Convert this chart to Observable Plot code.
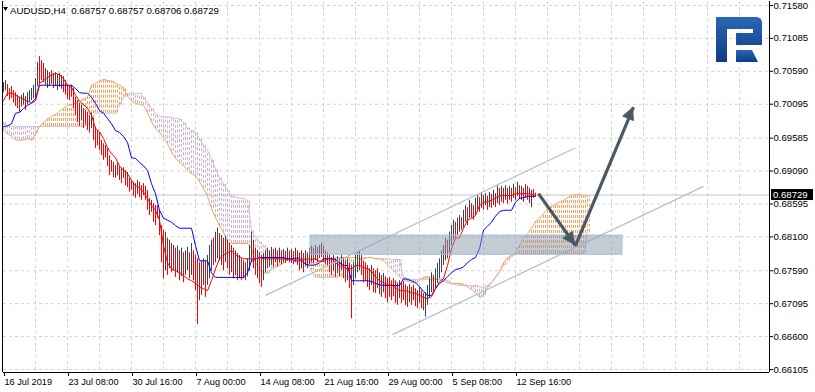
<!DOCTYPE html>
<html>
<head>
<meta charset="utf-8">
<script src="https://cdn.jsdelivr.net/npm/d3@7"></script>
<script src="https://cdn.jsdelivr.net/npm/@observablehq/plot@0.6"></script>
<style>
  html,body{margin:0;padding:0;background:#fff;}
  #chart{width:815px;height:392px;overflow:hidden;}
  #chart svg{display:block;}
</style>
</head>
<body>
<div id="chart"></div>
<script>
// ---------- data ----------
const symbolTitle = "AUDUSD,H4";
const lastOHLC = [0.68757, 0.68757, 0.68706, 0.68729];
const yTicks = [0.71580, 0.71085, 0.70590, 0.70095, 0.69585, 0.69090, 0.68595, 0.68100, 0.67590, 0.67095, 0.66600, 0.66105];
const xTickBars = [0, 32, 64, 96, 128, 160, 192, 224, 256];
const xTickLabels = ["16 Jul 2019", "23 Jul 08:00", "30 Jul 16:00", "7 Aug 00:00", "14 Aug 08:00", "21 Aug 16:00", "29 Aug 00:00", "5 Sep 08:00", "12 Sep 16:00"];
const gridBars = [16,32,48,64,80,96,112,128,144,160,176,192,208,224,240,256,272,288,304,320,336,352,368];

const barHigh = [
0.7042,0.7045,0.7039,0.7033,0.7036,0.7030,0.7027,0.7023,0.7020,0.7023,
0.7026,0.7021,0.7027,0.7030,0.7033,0.7038,0.7048,0.7072,0.7081,0.7075,
0.7071,0.7063,0.7060,0.7057,0.7060,0.7056,0.7057,0.7054,0.7056,0.7053,
0.7051,0.7045,0.7039,0.7036,0.7038,0.7033,0.7020,0.7015,0.7011,0.7008,
0.7003,0.7000,0.6997,0.6993,0.6996,0.6988,0.6975,0.6970,0.6967,0.6955,
0.6950,0.6947,0.6943,0.6932,0.6925,0.6922,0.6917,0.6921,0.6916,0.6913,
0.6914,0.6910,0.6907,0.6898,0.6895,0.6892,0.6890,0.6895,0.6892,0.6887,
0.6890,0.6886,0.6880,0.6868,0.6865,0.6860,0.6857,0.6857,0.6850,0.6827,
0.6820,0.6817,0.6808,0.6805,0.6800,0.6797,0.6793,0.6796,0.6789,0.6793,
0.6786,0.6789,0.6794,0.6786,0.6800,0.6789,0.6782,0.6777,0.6771,0.6774,
0.6777,0.6774,0.6782,0.6797,0.6805,0.6808,0.6817,0.6823,0.6815,0.6812,
0.6808,0.6811,0.6805,0.6800,0.6797,0.6793,0.6789,0.6785,0.6782,0.6777,
0.6774,0.6771,0.6777,0.6797,0.6817,0.6805,0.6793,0.6789,0.6786,0.6782,
0.6785,0.6789,0.6793,0.6789,0.6794,0.6791,0.6793,0.6789,0.6793,0.6789,
0.6791,0.6788,0.6793,0.6789,0.6791,0.6788,0.6793,0.6789,0.6786,0.6789,
0.6785,0.6789,0.6786,0.6793,0.6796,0.6793,0.6797,0.6794,0.6797,0.6800,
0.6796,0.6789,0.6786,0.6782,0.6779,0.6782,0.6777,0.6780,0.6777,0.6782,
0.6779,0.6774,0.6777,0.6771,0.6767,0.6771,0.6782,0.6786,0.6789,0.6782,
0.6774,0.6771,0.6767,0.6762,0.6767,0.6762,0.6759,0.6762,0.6756,0.6752,
0.6755,0.6750,0.6747,0.6749,0.6744,0.6747,0.6744,0.6741,0.6744,0.6740,
0.6743,0.6738,0.6735,0.6738,0.6734,0.6737,0.6732,0.6729,0.6734,0.6729,
0.6725,0.6726,0.6737,0.6747,0.6756,0.6752,0.6762,0.6770,0.6777,0.6789,
0.6797,0.6808,0.6805,0.6817,0.6827,0.6835,0.6832,0.6838,0.6842,0.6839,
0.6850,0.6857,0.6854,0.6865,0.6860,0.6857,0.6868,0.6872,0.6869,0.6875,
0.6872,0.6875,0.6871,0.6877,0.6874,0.6880,0.6875,0.6887,0.6883,0.6886,
0.6883,0.6887,0.6883,0.6886,0.6883,0.6889,0.6884,0.6892,0.6887,0.6886,
0.6883,0.6889,0.6886,0.6883,0.6880,0.6881,0.68757];

const barLow = [
0.7027,0.7030,0.7021,0.7015,0.7018,0.7011,0.7006,0.7003,0.6997,0.7005,
0.7008,0.7000,0.7009,0.7012,0.7015,0.7018,0.7018,0.7036,0.7039,0.7045,
0.7042,0.7038,0.7033,0.7036,0.7039,0.7033,0.7036,0.7030,0.7035,0.7032,
0.7027,0.7023,0.7017,0.7015,0.7020,0.7003,0.6993,0.6982,0.6976,0.6985,
0.6973,0.6978,0.6970,0.6966,0.6973,0.6955,0.6943,0.6947,0.6940,0.6932,
0.6925,0.6929,0.6916,0.6902,0.6907,0.6899,0.6898,0.6902,0.6895,0.6890,
0.6898,0.6887,0.6884,0.6877,0.6880,0.6871,0.6868,0.6874,0.6869,0.6865,
0.6872,0.6865,0.6850,0.6842,0.6847,0.6832,0.6827,0.6838,0.6812,0.6771,
0.6747,0.6759,0.6752,0.6762,0.6756,0.6759,0.6749,0.6756,0.6744,0.6750,
0.6741,0.6752,0.6759,0.6747,0.6752,0.6744,0.6729,0.6678,0.6714,0.6722,
0.6737,0.6719,0.6737,0.6747,0.6759,0.6767,0.6771,0.6777,0.6774,0.6767,
0.6759,0.6771,0.6762,0.6752,0.6756,0.6747,0.6752,0.6744,0.6747,0.6744,
0.6747,0.6744,0.6750,0.6759,0.6771,0.6762,0.6752,0.6747,0.6740,0.6734,
0.6744,0.6756,0.6762,0.6765,0.6767,0.6764,0.6771,0.6765,0.6771,0.6768,
0.6771,0.6770,0.6773,0.6771,0.6770,0.6768,0.6771,0.6767,0.6759,0.6762,
0.6756,0.6765,0.6762,0.6768,0.6771,0.6770,0.6774,0.6771,0.6777,0.6779,
0.6771,0.6768,0.6765,0.6756,0.6752,0.6759,0.6749,0.6755,0.6750,0.6759,
0.6747,0.6741,0.6744,0.6732,0.6687,0.6737,0.6747,0.6756,0.6759,0.6752,
0.6741,0.6744,0.6734,0.6729,0.6737,0.6726,0.6725,0.6732,0.6723,0.6719,
0.6726,0.6717,0.6711,0.6719,0.6714,0.6720,0.6710,0.6707,0.6717,0.6710,
0.6714,0.6707,0.6704,0.6711,0.6707,0.6714,0.6705,0.6702,0.6710,0.6702,
0.6699,0.6689,0.6707,0.6717,0.6726,0.6726,0.6732,0.6740,0.6747,0.6756,
0.6767,0.6774,0.6777,0.6786,0.6797,0.6805,0.6808,0.6812,0.6817,0.6820,
0.6823,0.6832,0.6827,0.6838,0.6838,0.6835,0.6842,0.6850,0.6847,0.6853,
0.6850,0.6857,0.6850,0.6854,0.6853,0.6857,0.6854,0.6860,0.6857,0.6862,
0.6860,0.6865,0.6859,0.6865,0.6862,0.6868,0.6865,0.6871,0.6866,0.6865,
0.6862,0.6868,0.6865,0.6860,0.6854,0.6868,0.68706];

// u = bullish bar, d = bearish bar
const barDir = ("uudddddddu" + "uduuuuuudd" + "dduudduudu" + "dddddddddu" + "dddduddddd" +
  "dddddduddd" + "uddddddudd" + "dddduddddd" + "dududududu" + "duududddud" +
  "uduuuduudu" + "duddududud" + "uduuuddudd" + "uuduududud" + "ududududdu" +
  "duduududuu" + "dduddududu" + "ddudduuuud" + "ddddudddud" + "udddddddud" +
  "ddduddddud" + "duuuuduuuu" + "uuduuuduud" + "uududduudu" + "dududududu" +
  "dududududu" + "duddudd").split("");

// Ichimoku lines, one value every 2 bars
const tenkan = [
0.7015,0.7026,0.7026,0.7023,0.7020,0.7017,0.7014,0.7012,0.7018,0.7041,
0.7045,0.7050,0.7053,0.7056,0.7054,0.7048,0.7038,0.7035,0.7023,0.7014,
0.7009,0.7003,0.6993,0.6973,0.6968,0.6958,0.6944,0.6935,0.6929,0.6917,
0.6910,0.6905,0.6895,0.6887,0.6884,0.6877,0.6868,0.6857,0.6850,0.6835,
0.6797,0.6771,0.6762,0.6759,0.6756,0.6752,0.6747,0.6744,0.6740,0.6735,
0.6732,0.6729,0.6744,0.6762,0.6777,0.6783,0.6786,0.6789,0.6783,0.6780,
0.6777,0.6777,0.6777,0.6777,0.6779,0.6777,0.6777,0.6777,0.6777,0.6777,
0.6777,0.6776,0.6776,0.6774,0.6774,0.6776,0.6777,0.6776,0.6777,0.6773,
0.6773,0.6777,0.6777,0.6771,0.6767,0.6764,0.6762,0.6762,0.6767,0.6767,
0.6764,0.6762,0.6758,0.6750,0.6744,0.6741,0.6738,0.6737,0.6734,0.6729,
0.6729,0.6728,0.6726,0.6725,0.6722,0.6719,0.6717,0.6720,0.6732,0.6743,
0.6747,0.6767,0.6792,0.6808,0.6809,0.6823,0.6835,0.6838,0.6842,0.6857,
0.6862,0.6863,0.6865,0.6868,0.6872,0.6872,0.6872,0.6872,0.6875,0.6875,
0.6875,0.6875,0.6874,0.6872];

const kijun = [
0.6976,0.6977,0.6980,0.6996,0.6997,0.7003,0.7008,0.7011,0.7015,0.7038,
0.7038,0.7038,0.7038,0.7038,0.7038,0.7038,0.7038,0.7038,0.7033,0.7027,
0.7026,0.7026,0.7020,0.7011,0.7000,0.6996,0.6988,0.6980,0.6970,0.6967,
0.6961,0.6952,0.6929,0.6928,0.6922,0.6917,0.6910,0.6890,0.6875,0.6850,
0.6838,0.6835,0.6832,0.6827,0.6823,0.6823,0.6823,0.6823,0.6797,0.6774,
0.6774,0.6774,0.6756,0.6749,0.6749,0.6749,0.6749,0.6749,0.6749,0.6749,
0.6749,0.6756,0.6774,0.6777,0.6779,0.6779,0.6779,0.6779,0.6779,0.6779,
0.6779,0.6777,0.6777,0.6777,0.6777,0.6771,0.6768,0.6767,0.6768,0.6771,
0.6777,0.6777,0.6777,0.6776,0.6771,0.6767,0.6767,0.6744,0.6744,0.6744,
0.6744,0.6744,0.6743,0.6740,0.6738,0.6737,0.6737,0.6737,0.6737,0.6737,
0.6747,0.6746,0.6744,0.6741,0.6735,0.6728,0.6722,0.6722,0.6732,0.6740,
0.6744,0.6750,0.6756,0.6761,0.6762,0.6765,0.6771,0.6776,0.6779,0.6792,
0.6820,0.6826,0.6832,0.6841,0.6848,0.6850,0.6850,0.6850,0.6862,0.6868,
0.6869,0.6871,0.6871,0.6871];

const spanA = [
0.6970,0.6965,0.6962,0.6956,0.6955,0.6956,0.6958,0.6955,0.6965,0.6976,
0.6982,0.6987,0.6991,0.6994,0.6999,0.7003,0.7008,0.7009,0.7011,0.7014,
0.7017,0.7020,0.7038,0.7041,0.7044,0.7047,0.7045,0.7044,0.7041,0.7038,
0.7035,0.7021,0.7014,0.7011,0.7009,0.7008,0.6997,0.6983,0.6973,0.6967,
0.6959,0.6950,0.6938,0.6928,0.6922,0.6917,0.6910,0.6905,0.6902,0.6893,
0.6883,0.6871,0.6853,0.6839,0.6826,0.6817,0.6802,0.6800,0.6800,0.6800,
0.6800,0.6800,0.6792,0.6771,0.6761,0.6756,0.6755,0.6761,0.6764,0.6767,
0.6771,0.6776,0.6777,0.6779,0.6779,0.6777,0.6774,0.6771,0.6771,0.6774,
0.6776,0.6777,0.6777,0.6779,0.6779,0.6779,0.6779,0.6779,0.6779,0.6777,
0.6777,0.6779,0.6779,0.6777,0.6777,0.6774,0.6768,0.6762,0.6756,0.6750,
0.6746,0.6743,0.6741,0.6741,0.6744,0.6749,0.6750,0.6749,0.6747,0.6746,
0.6744,0.6741,0.6740,0.6740,0.6740,0.6738,0.6735,0.6731,0.6726,0.6719,
0.6722,0.6734,0.6741,0.6749,0.6758,0.6771,0.6779,0.6782,0.6786,0.6797,
0.6809,0.6815,0.6823,0.6833,0.6838,0.6845,0.6853,0.6856,0.6859,0.6862,
0.6865,0.6869,0.6872,0.6874,0.6874,0.6872,0.6872];

const spanB = [
0.6982,0.6977,0.6976,0.6976,0.6976,0.6976,0.6976,0.6976,0.6976,0.6976,
0.6976,0.6976,0.6976,0.6976,0.6976,0.6976,0.6976,0.6976,0.6976,0.6976,
0.6976,0.6979,0.6988,0.6996,0.6996,0.6996,0.6996,0.6996,0.6996,0.7008,
0.7020,0.7026,0.7026,0.7026,0.7026,0.7020,0.7012,0.7003,0.6996,0.6991,
0.6990,0.6990,0.6990,0.6988,0.6988,0.6982,0.6974,0.6970,0.6967,0.6958,
0.6947,0.6940,0.6928,0.6913,0.6899,0.6890,0.6880,0.6872,0.6869,0.6868,
0.6868,0.6865,0.6820,0.6809,0.6802,0.6797,0.6789,0.6782,0.6779,0.6777,
0.6776,0.6776,0.6774,0.6774,0.6774,0.6774,0.6770,0.6759,0.6749,0.6749,
0.6749,0.6749,0.6749,0.6749,0.6750,0.6752,0.6750,0.6749,0.6762,0.6774,
0.6779,0.6779,0.6779,0.6777,0.6777,0.6777,0.6777,0.6776,0.6776,0.6776,
0.6749,0.6747,0.6746,0.6746,0.6746,0.6746,0.6746,0.6746,0.6746,0.6746,
0.6746,0.6744,0.6740,0.6738,0.6737,0.6737,0.6737,0.6737,0.6737,0.6735,
0.6734,0.6737,0.6741,0.6749,0.6758,0.6767,0.6774,0.6780,0.6785,0.6785,
0.6785,0.6785,0.6785,0.6785,0.6785,0.6785,0.6785,0.6785,0.6785,0.6785,
0.6785,0.6785,0.6785,0.6785,0.6785,0.6785,0.6817];

// drawn objects (bar index, price)
const channelBarsStart = [131, 194.5];
const channelPriceStart = [0.6722, 0.6663];
const channelBarsEnd = [286, 350];
const channelPriceEnd = [0.6944, 0.6886];
const zoneBars = [153.5, 309.5];
const zonePrices = [0.6783, 0.6812];
const arrowBars = [267.5, 286, 315];
const arrowPrices = [0.6875, 0.6797, 0.7005];

// ---------- build ----------
const FONT = "'Liberation Sans', Arial, Helvetica, sans-serif";
const bars = barHigh.map((h, i) => ({i, high: h, low: barLow[i], up: barDir[i] === "u"}));
const tk = tenkan.map((v, k) => ({i: 2 * k, v}));
const kj = kijun.map((v, k) => ({i: 2 * k, v}));
const cloud = spanA.map((a, k) => ({i: 2 * k, a, b: spanB[k]}));
const cloudUp = cloud.filter(d => d.a > d.b);
const cloudDn = cloud.filter(d => d.b > d.a);
const channels = channelBarsStart.map((b, j) => ({b1: b, p1: channelPriceStart[j], b2: channelBarsEnd[j], p2: channelPriceEnd[j]}));
const zone = [{b1: zoneBars[0], b2: zoneBars[1], lo: zonePrices[0], hi: zonePrices[1]}];
const arrows = [0, 1].map(j => ({x1: arrowBars[j], y1: arrowPrices[j], x2: arrowBars[j + 1], y2: arrowPrices[j + 1]}));
const lastClose = lastOHLC[3];
const labelMap = new Map(xTickBars.map((b, i) => [b, xTickLabels[i]]));
const gridColor = "#d2d2d2";
const orange = "#f4a460", thistle = "#d8bfd8";

// cloud hatching: each 2-bar sample drawn as two dotted 1px columns
const hatch = (data, lo, hi, color) => [0, 2].map(dx =>
  Plot.ruleX(data, {x: "i", y1: lo, y2: hi, stroke: color, strokeDasharray: "3,2", dx}));

const chart = Plot.plot({
  width: 815, height: 392,
  marginLeft: 3, marginRight: 46, marginTop: 1, marginBottom: 20,
  style: {background: "#fff", fontFamily: FONT, color: "#000"},
  x: {domain: [0, 383], axis: null},
  y: {domain: [0.66060, 0.71640], axis: null},
  marks: [
    Plot.gridY(yTicks, {stroke: gridColor, strokeOpacity: 1, strokeDasharray: "3,3"}),
    Plot.gridX(gridBars, {stroke: gridColor, strokeOpacity: 1, strokeDasharray: "3,3"}),
    ...hatch(cloudUp, "b", "a", orange),
    ...hatch(cloudDn, "a", "b", "#cdb5d1"),
    Plot.line(cloud, {x: "i", y: "b", stroke: thistle, strokeWidth: 1}),
    Plot.line(cloud, {x: "i", y: "a", stroke: orange, strokeWidth: 1}),
    Plot.ruleY([lastClose], {stroke: "#c4c4c4"}),
    Plot.ruleX(bars.filter(d => d.up), {x: "i", y1: "low", y2: "high", stroke: "#37474f"}),
    Plot.ruleX(bars.filter(d => !d.up), {x: "i", y1: "low", y2: "high", stroke: "#ff0000"}),
    Plot.line(kj, {x: "i", y: "v", stroke: "#0000ff", strokeWidth: 1}),
    Plot.line(tk, {x: "i", y: "v", stroke: "#ff0000", strokeWidth: 1}),
    Plot.link(channels, {x1: "b1", y1: "p1", x2: "b2", y2: "p2", stroke: "#a9c2d2", strokeWidth: 1.2}),
    Plot.rect(zone, {x1: "b1", x2: "b2", y1: "lo", y2: "hi", fill: "#8a9aab", fillOpacity: 0.5, stroke: "#a3c1e6"}),
    Plot.link(arrows, {x1: "x1", y1: "y1", x2: "x2", y2: "y2", stroke: "#4a5963", strokeWidth: 3.2}),
    Plot.ruleX([-0.5, 383], {stroke: "#000"}),
    Plot.ruleY([0.66060], {stroke: "#000"}),
    Plot.axisY(yTicks, {anchor: "right", tickSize: 3, tickPadding: 1, tickFormat: d => d.toFixed(5), fontSize: 9.6, label: null}),
    Plot.axisX(xTickBars, {anchor: "bottom", tickSize: 4, tickPadding: 2, tickFormat: d => labelMap.get(d), textAnchor: "start", fontSize: 9.2, label: null, dx: 1})
  ]
});
document.getElementById("chart").appendChild(chart);

// ---------- decorations ----------
const svg = d3.select(chart);
const defs = svg.insert("defs", ":first-child");
const lg = defs.append("linearGradient").attr("id", "logoGrad").attr("x1", 0).attr("y1", 0).attr("x2", 0).attr("y2", 1);
lg.append("stop").attr("offset", "0%").attr("stop-color", "#2b66b3");
lg.append("stop").attr("offset", "100%").attr("stop-color", "#0d3c86");

const sx = chart.scale("x"), sy = chart.scale("y");
// filled arrow heads
arrows.forEach(a => {
  const x1 = sx.apply(a.x1), y1 = sy.apply(a.y1), x2 = sx.apply(a.x2), y2 = sy.apply(a.y2);
  const L = Math.hypot(x2 - x1, y2 - y1), ux = (x2 - x1) / L, uy = (y2 - y1) / L;
  const len = 13, half = 6.5;
  const bx = x2 - ux * len, by = y2 - uy * len;
  svg.append("path")
    .attr("d", `M${x2},${y2}L${bx - uy * half},${by + ux * half}L${bx + uy * half},${by - ux * half}Z`)
    .attr("fill", "#4a5963");
});

// current price label
const py = sy.apply(lastClose);
const rx = sx.apply(383) + 2;
svg.append("rect").attr("x", rx).attr("y", py - 5.5).attr("width", 42).attr("height", 11).attr("fill", "#000");
svg.append("text").attr("x", rx + 2).attr("y", py + 3.6).attr("fill", "#fff").attr("text-anchor", "start")
  .attr("font-size", 9.6).attr("font-family", FONT).text(lastClose.toFixed(5));

// title
svg.append("path").attr("d", "M3,7L8,7L5.5,11Z").attr("fill", "#000");
svg.append("text").attr("x", 10).attr("y", 14).attr("font-size", 9.7).attr("font-family", FONT)
  .attr("text-anchor", "start").style("white-space", "pre").attr("fill", "#000")
  .attr("textLength", 209).attr("lengthAdjust", "spacingAndGlyphs")
  .text(`${symbolTitle}  ${lastOHLC.map(v => v.toFixed(5)).join(" ")}`);

// logo
const logo = svg.append("g").attr("fill", "url(#logoGrad)");
logo.append("path").attr("d", "M716,17H756Q762,17 762,23V45H736V33H753V29H727V62H716Z");
logo.append("path").attr("d", "M736,50H752L758,62H736Z");
</script>
</body>
</html>
